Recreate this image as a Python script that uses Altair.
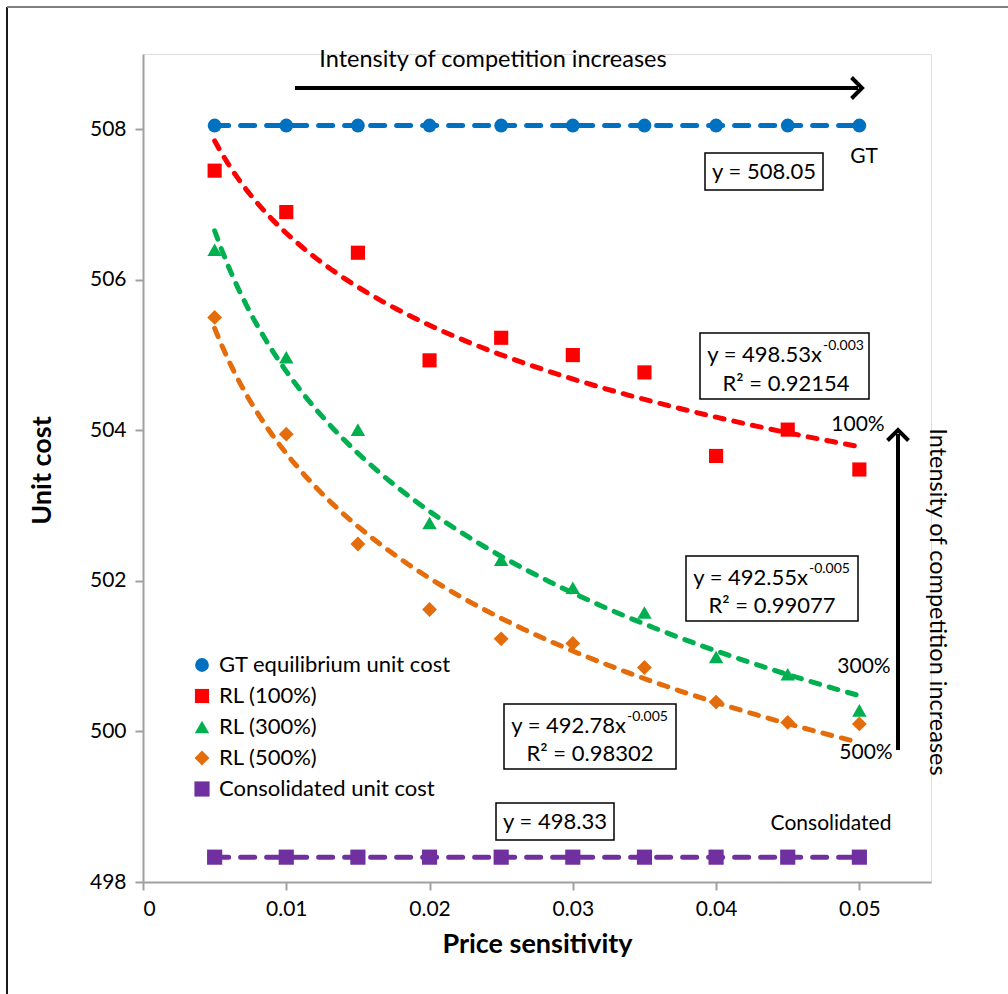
import altair as alt
import pandas as pd

FONT = "Lato"

# ---------------- data ----------------
price = [0.005, 0.010, 0.015, 0.020, 0.025, 0.030, 0.035, 0.040, 0.045, 0.050]
gt_cost = [508.05, 508.05, 508.05, 508.05, 508.05, 508.05, 508.05, 508.05, 508.05, 508.05]
rl100 = [507.45, 506.90, 506.36, 504.93, 505.23, 505.00, 504.77, 503.66, 504.01, 503.48]
rl300 = [506.40, 504.97, 504.01, 502.77, 502.28, 501.91, 501.58, 500.99, 500.76, 500.28]
rl500 = [505.50, 503.95, 502.49, 501.62, 501.23, 501.17, 500.85, 500.39, 500.12, 500.10]
consolidated = [498.33, 498.33, 498.33, 498.33, 498.33, 498.33, 498.33, 498.33, 498.33, 498.33]

series_names = ["GT equilibrium unit cost", "RL (100%)", "RL (300%)", "RL (500%)",
                "Consolidated unit cost"]
series_colors = ["#0070C0", "#FF0000", "#00B050", "#E46C0A", "#7030A0"]
series_shapes = ["circle", "square", "triangle-up", "diamond", "square"]
series_sizes = [190, 230, 140, 120, 150]
flat_series = [series_names[0], series_names[4]]
curve_series = series_names[1:4]

x_ticks = [0, 0.01, 0.02, 0.03, 0.04, 0.05]
y_ticks = [498, 500, 502, 504, 506, 508]

rows = []
for name, vals in zip(series_names, [gt_cost, rl100, rl300, rl500, consolidated]):
    for p, v in zip(price, vals):
        rows.append({"price": p, "cost": v, "series": name})
df = pd.DataFrame(rows)

# plot-area origin in the page (used for annotation placement)
OX, OY = 143, 54
W, H = 788, 828

x_scale = alt.Scale(domain=[0, 0.055], nice=False, zero=False)
y_scale = alt.Scale(domain=[498, 509], nice=False, zero=False)

x_axis = alt.Axis(values=x_ticks, format=".2~f", title="Price sensitivity", grid=False,
                  domainColor="#A0A0A0", domainWidth=2, tickColor="#A0A0A0", tickWidth=2,
                  tickSize=8, labelFontSize=21, labelFont=FONT, labelColor="black",
                  labelPadding=8, titleFont=FONT, titleFontSize=27, titleFontWeight="bold",
                  titleColor="black", titleX=394, titleY=62, titleAlign="center",
                  titleBaseline="middle")
y_axis = alt.Axis(values=y_ticks, format="d", title="Unit cost", grid=False,
                  domainColor="#A0A0A0", domainWidth=2, tickColor="#A0A0A0", tickWidth=2,
                  tickSize=8, labelFontSize=21, labelFont=FONT, labelColor="black",
                  labelPadding=9, titleFont=FONT, titleFontSize=27, titleFontWeight="bold",
                  titleColor="black", titleAngle=270, titleX=-101, titleY=416,
                  titleAlign="center", titleBaseline="middle")

legend = alt.Legend(title=None, orient="none", legendX=48, legendY=600,
                    labelFont=FONT, labelFontSize=22, labelColor="black", labelLimit=0,
                    symbolSize=170, rowPadding=9, labelOffset=6, symbolStrokeWidth=0)

color_enc = alt.Color("series:N", scale=alt.Scale(domain=series_names, range=series_colors),
                      legend=legend, sort=series_names)
shape_enc = alt.Shape("series:N", scale=alt.Scale(domain=series_names, range=series_shapes),
                      legend=legend, sort=series_names)
color_nolegend = alt.Color("series:N", scale=alt.Scale(domain=series_names, range=series_colors),
                           legend=None)

X = alt.X("price:Q", scale=x_scale, axis=x_axis)
Y = alt.Y("cost:Q", scale=y_scale, axis=y_axis)

points = alt.Chart(df).mark_point(filled=True, opacity=1).encode(
    x=X, y=Y, color=color_enc, shape=shape_enc,
    size=alt.Size("series:O", scale=alt.Scale(domain=series_names, range=series_sizes), legend=None),
)

flat_lines = alt.Chart(df).transform_filter(
    alt.FieldOneOfPredicate(field="series", oneOf=flat_series)
).mark_line(strokeWidth=5, strokeDash=[14, 12], strokeCap="round").encode(
    x=X, y=Y, color=color_nolegend
)

curves = alt.Chart(df).transform_filter(
    alt.FieldOneOfPredicate(field="series", oneOf=curve_series)
).transform_regression("price", "cost", groupby=["series"], method="pow").mark_line(
    strokeWidth=5, strokeDash=[9, 10], strokeCap="round"
).encode(x=X, y=Y, color=color_nolegend)

one = alt.Data(values=[{"k": 1}])


def px(v):
    return alt.value(v - OX)


def py(v):
    return alt.value(v - OY)


def text(s, x, y, size=21, align="center", **kw):
    return alt.Chart(one).mark_text(text=s, font=FONT, fontSize=size, align=align,
                                    baseline="middle", color="black", **kw).encode(
        x=px(x), y=py(y))


def box(x1, y1, x2, y2):
    return alt.Chart(one).mark_rect(fill="white", stroke="black", strokeWidth=1.5).encode(
        x=px(x1), x2=px(x2), y=py(y1), y2=py(y2))


def rule(x1, y1, x2, y2, color="black", width=4):
    return alt.Chart(one).mark_rule(color=color, strokeWidth=width).encode(
        x=px(x1), x2=px(x2), y=py(y1), y2=py(y2))


def head(x, y, path, size=440):
    return alt.Chart(one).mark_point(shape=path, filled=False, stroke="black", strokeWidth=4,
                                     size=size, opacity=1, strokeJoin="miter").encode(
        x=px(x), y=py(y))


annotations = [
    # equation boxes
    box(705, 153, 823, 190), text("y = 508.05", 764, 172, size=22),
    box(700, 333, 869, 399), text("y = 498.53x", 822, 355, size=22, align="right"),
    text("-0.003", 823, 346, size=14, align="left"), text("R² = 0.92154", 786, 384, size=22),
    box(686, 556, 858, 621), text("y = 492.55x", 808, 578, size=22, align="right"),
    text("-0.005", 809, 569, size=14, align="left"), text("R² = 0.99077", 772, 606, size=22),
    box(504, 704, 676, 769), text("y = 492.78x", 626, 726, size=22, align="right"),
    text("-0.005", 627, 717, size=14, align="left"), text("R² = 0.98302", 590, 754, size=22),
    box(496, 803, 614, 840), text("y = 498.33", 555, 822, size=22),
    # series labels
    text("GT", 864, 157), text("100%", 858, 425), text("300%", 864, 667),
    text("500%", 866, 753), text("Consolidated", 831, 824),
    # arrows
    text("Intensity of competition increases", 493, 60, size=23.5),
    rule(295, 88, 858, 88), head(862, 88, "M -1 -1 L 0 0 L -1 1"),
    rule(898, 750, 898, 434), head(898, 430, "M -1 1 L 0 0 L 1 1"),
    text("Intensity of competition increases", 937, 602, size=23.5, angle=90),
    # outer frame
    rule(7, 7, 7, 994, color="#1a1a1a", width=2), rule(7, 7, 1008, 7, color="#808080", width=2),
]

chart = alt.layer(points, flat_lines, curves, *annotations).properties(
    width=W, height=H,
    padding={"left": OX, "top": OY, "right": 1008 - OX - W, "bottom": 994 - OY - H},
    autosize=alt.AutoSizeParams(type="none"),
).configure_view(stroke=None).configure(background="white")

chart.save("out.html", embed_options={"renderer": "svg", "actions": False})
